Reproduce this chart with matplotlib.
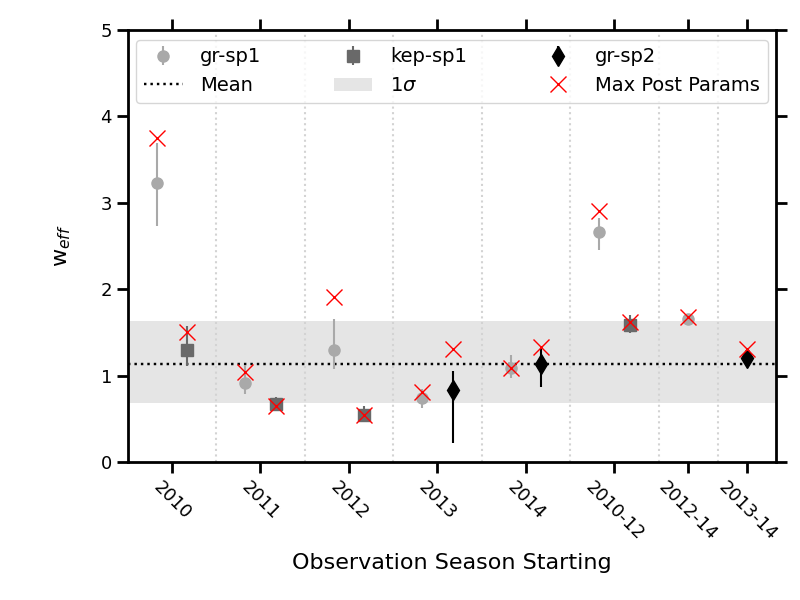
import matplotlib
matplotlib.use("Agg")
import matplotlib.pyplot as plt
import numpy as np

# Tick labels (observation seasons)
seasons = ["2010", "2011", "2012", "2013", "2014", "2010-12", "2012-14", "2013-14"]

# gr-sp1
gr1_seasons = ["2010", "2011", "2012", "2013", "2014", "2010-12", "2012-14"]
gr1_val = [3.23, 0.92, 1.30, 0.74, 1.09, 2.66, 1.655]
gr1_lo = [0.50, 0.13, 0.22, 0.12, 0.12, 0.21, 0.03]
gr1_hi = [0.46, 0.20, 0.36, 0.10, 0.15, 0.16, 0.03]
gr1_max = [3.75, 1.045, 1.913, 0.814, 1.09, 2.90, 1.68]

# kep-sp1
kep_seasons = ["2010", "2011", "2012", "2010-12"]
kep_val = [1.296, 0.667, 0.544, 1.586]
kep_lo = [0.19, 0.05, 0.05, 0.09]
kep_hi = [0.28, 0.08, 0.10, 0.11]
kep_max = [1.50, 0.65, 0.545, 1.624]

# gr-sp2
gr2_seasons = ["2013", "2014", "2013-14"]
gr2_val = [0.833, 1.14, 1.20]
gr2_lo = [0.617, 0.27, 0.07]
gr2_hi = [0.22, 0.18, 0.08]
gr2_max = [1.304, 1.335, 1.304]

mean_val = 1.134
sigma_lo = 0.687
sigma_hi = 1.632

# layout (positions on the x axis)
tick_pos = [0, 1, 2, 3, 4, 5, 5.83, 6.5]
sep_pos = [0.5, 1.5, 2.5, 3.5, 4.5, 5.5, 6.17]
pos = dict(zip(seasons, tick_pos))
off = 0.17

def xs(names, shift):
    out = []
    for n in names:
        s = shift if n not in ("2012-14", "2013-14") else 0.0
        out.append(pos[n] + s)
    return np.array(out)

fig = plt.figure(figsize=(8, 6), dpi=100)
ax = fig.add_axes([0.16, 0.23, 0.81, 0.72])

ax.axhspan(sigma_lo, sigma_hi, color="gray", alpha=0.2, lw=0, label=r"1$\sigma$", zorder=0)
ax.axhline(mean_val, color="black", ls=":", lw=1.75, label="Mean", zorder=1)
for s in sep_pos:
    ax.axvline(s, color="lightgray", ls=":", lw=1.5, zorder=0.5)

x1 = xs(gr1_seasons, -off)
xk = xs(kep_seasons, off)
x2 = xs(gr2_seasons, off)

ax.errorbar(x1, gr1_val, yerr=[gr1_lo, gr1_hi], fmt="o", color="darkgray",
            ms=8, elinewidth=1.5, capsize=0, label="gr-sp1", zorder=3)
ax.errorbar(xk, kep_val, yerr=[kep_lo, kep_hi], fmt="s", color="dimgray",
            ms=9, elinewidth=1.5, capsize=0, label="kep-sp1", zorder=3)
ax.errorbar(x2, gr2_val, yerr=[gr2_lo, gr2_hi], fmt="d", color="black",
            ms=10, elinewidth=1.5, capsize=0, label="gr-sp2", zorder=3)
ax.plot(np.concatenate([x1, xk, x2]), gr1_max + kep_max + gr2_max, "x",
        color="red", ms=12, mew=1.0, ls="none", label="Max Post Params", zorder=4)

handles, labels = ax.get_legend_handles_labels()
hd = dict(zip(labels, handles))
order = ["gr-sp1", "Mean", "kep-sp1", r"1$\sigma$", "gr-sp2", "Max Post Params"]
ax.legend([hd[o] for o in order], order, ncol=3, loc="upper center",
          fontsize=14, frameon=True, framealpha=0.8, borderaxespad=0.5,
          columnspacing=3.7, handlelength=2.0, handletextpad=0.9)

ax.set_xlim(-0.497, 6.825)
ax.set_ylim(0, 5)
ax.set_xticks(tick_pos)
ax.set_xticklabels(seasons, rotation=-45, ha="center", fontsize=13)
ax.set_yticks([0, 1, 2, 3, 4, 5])
ax.tick_params(axis="both", which="major", direction="out", length=8, width=2,
               labelsize=13, top=True, right=True)
for sp in ax.spines.values():
    sp.set_linewidth(2)

ax.set_xlabel("Observation Season Starting", fontsize=16, labelpad=7)
ax.set_ylabel(r"w$_{eff}$", fontsize=16, labelpad=20)

fig.savefig("out.png", dpi=100)
